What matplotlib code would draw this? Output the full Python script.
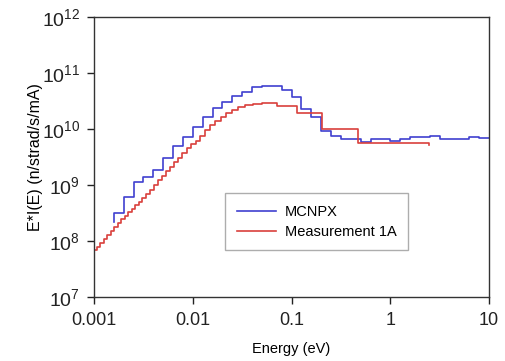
import numpy as np
import matplotlib
matplotlib.use("Agg")
import matplotlib.pyplot as plt

plt.rcParams['font.family'] = ['Liberation Sans', 'DejaVu Sans']
plt.rcParams['mathtext.fontset'] = 'custom'
plt.rcParams['mathtext.rm'] = 'Liberation Sans'

# MCNPX: bin edges (eV) and E*I(E) per bin
mcnpx_edges = [1.585e-3, 1.995e-3, 2.512e-3, 3.162e-3, 3.981e-3, 5.012e-3, 6.310e-3, 7.943e-3,
               1.0e-2, 1.259e-2, 1.585e-2, 1.995e-2, 2.512e-2, 3.162e-2, 3.981e-2, 5.012e-2,
               6.310e-2, 7.943e-2, 0.1, 0.1259, 0.1585, 0.1995, 0.2512, 0.3162, 0.3981,
               0.5012, 0.6310, 0.7943, 1.0, 1.259, 1.585, 1.995, 2.512, 3.162, 3.981,
               5.012, 6.310, 7.943, 10.0]
mcnpx_vals = [3.16e8, 6.1e8, 1.13e9, 1.39e9, 1.89e9, 3.04e9, 4.97e9, 7.2e9,
              1.09e10, 1.64e10, 2.37e10, 3.04e10, 3.88e10, 4.58e10, 5.62e10, 5.86e10,
              5.86e10, 4.97e10, 3.73e10, 2.32e10, 1.64e10, 9.2e9, 7.35e9, 6.76e9,
              6.76e9, 5.86e9, 6.63e9, 6.63e9, 6.1e9, 6.63e9, 7.2e9, 7.2e9, 7.5e9,
              6.63e9, 6.63e9, 6.63e9, 7.2e9, 6.9e9]
mcnpx_start = 2.18e8

# Measurement 1A
meas_edges = [1.0e-3, 1.072e-3, 1.150e-3, 1.248e-3, 1.354e-3, 1.469e-3, 1.594e-3, 1.730e-3,
              1.877e-3, 2.037e-3, 2.210e-3, 2.398e-3, 2.602e-3, 2.823e-3, 3.063e-3, 3.363e-3,
              3.691e-3, 4.052e-3, 4.448e-3, 4.882e-3, 5.359e-3, 5.883e-3, 6.458e-3, 7.089e-3,
              7.782e-3, 8.644e-3, 9.601e-3, 1.066e-2, 1.184e-2, 1.331e-2, 1.495e-2, 1.680e-2,
              1.910e-2, 2.172e-2, 2.497e-2, 2.872e-2, 3.382e-2, 4.074e-2, 5.027e-2, 7.132e-2,
              0.1137, 0.2037, 0.4715, 2.469]
meas_vals = [6.91e7, 7.81e7, 9.21e7, 1.086e8, 1.28e8, 1.509e8, 1.778e8, 2.054e8,
             2.421e8, 2.795e8, 3.295e8, 3.727e8, 4.394e8, 4.97e8, 5.859e8, 6.907e8,
             8.142e8, 1.0e9, 1.228e9, 1.448e9, 1.778e9, 2.096e9, 2.575e9, 3.035e9,
             3.727e9, 4.58e9, 5.287e9, 6.107e9, 7.499e9, 9.596e9, 1.179e10, 1.39e10,
             1.638e10, 1.931e10, 2.184e10, 2.471e10, 2.683e10, 2.795e10, 2.913e10, 2.575e10,
             1.931e10, 9.8e9, 5.623e9]
meas_start = 4.97e7
meas_end = 5.18e9

fig = plt.figure(figsize=(5.06, 3.61), dpi=100)
ax = fig.add_axes([0.1858, 0.1773, 0.7806, 0.7756])

# step curves
x_b = [mcnpx_edges[0]] + mcnpx_edges
y_b = [mcnpx_start] + mcnpx_vals + [mcnpx_vals[-1]]
ax.step(x_b, y_b, where='post', color='#4040cf', lw=1.2, label='MCNPX')

x_r = [meas_edges[0]] + meas_edges + [meas_edges[-1]]
y_r = [meas_start] + meas_vals + [meas_vals[-1], meas_end]
ax.step(x_r, y_r, where='post', color='#d9403c', lw=1.2, label='Measurement 1A')

ax.set_xscale('log')
ax.set_yscale('log')
ax.set_xlim(1e-3, 10)
ax.set_ylim(1e7, 1e12)
ax.set_xticks([1e-3, 1e-2, 1e-1, 1, 10])
ax.set_xticklabels(['0.001', '0.01', '0.1', '1', '10'])
ax.set_yticks([1e7, 1e8, 1e9, 1e10, 1e11, 1e12])
ax.minorticks_off()
ax.tick_params(axis='both', direction='out', length=5, width=1, labelsize=13, colors='#222222')
ax.tick_params(axis='x', pad=6)
ax.tick_params(axis='y', pad=5, labelsize=14)
for s in ax.spines.values():
    s.set_color('#333333')
    s.set_linewidth(1)

ax.set_xlabel('Energy (eV)', fontsize=10.5, labelpad=9)
ax.set_ylabel('E*I(E) (n/strad/s/mA)', fontsize=11.5, labelpad=-1)

leg = ax.legend(loc='upper left', bbox_to_anchor=(0.332, 0.371), fontsize=10.5,
                frameon=True, fancybox=False, handlelength=2.7, handletextpad=0.6,
                borderaxespad=0, borderpad=0.8, labelspacing=0.4)
leg.get_frame().set_edgecolor('#999999')
leg.get_frame().set_linewidth(1)

fig.savefig('out.png', dpi=100)
